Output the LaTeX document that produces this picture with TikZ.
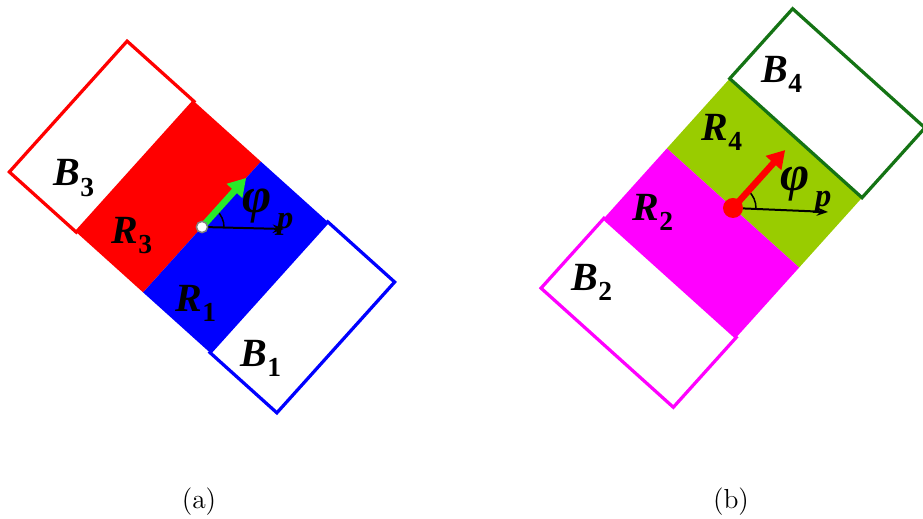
\documentclass[tikz,border=0pt]{standalone}
\usepackage{fontspec}
\newfontfamily\tnr{Liberation Serif}
\usetikzlibrary{arrows.meta}

\definecolor{bandred}{RGB}{255,0,0}
\definecolor{bandblue}{RGB}{0,0,255}
\definecolor{bandmag}{RGB}{255,0,255}
\definecolor{bandlime}{RGB}{153,204,0}
\definecolor{darkgrn}{RGB}{20,115,20}
\definecolor{brightgrn}{RGB}{40,235,40}

% bold italic letter with a lowered index
\newcommand{\lbl}[2]{#1\raisebox{-0.55ex}{\upshape\fontsize{11}{11}\selectfont #2}}
\newcommand{\phip}{{\fontsize{20}{20}\selectfont\char"03C6}\raisebox{-0.9ex}{\fontsize{13}{13}\selectfont\,p}}

\begin{document}
\begin{tikzpicture}[x=0.4pt, y=0.4pt,
    outline/.style={line width=1.3pt},
    lbl/.style={font=\tnr\bfseries\itshape\fontsize{16}{18}\selectfont, inner sep=0pt},
    vec/.style={-{Triangle[length=7pt, width=8pt]}, line width=2.6pt},
    axis/.style={-{Stealth[length=4.5pt]}, line width=0.8pt},
    angmark/.style={line width=0.6pt}
]
\useasboundingbox (0,0) rectangle (923,519);

% (a)
\begin{scope}[shift={(202,292)}, rotate=-42]
    \fill[bandred] (-90,-88) rectangle (0,88);
    \fill[bandblue] (0,-88) rectangle (90,88);
    \draw[outline, bandred] (-180,-88) rectangle (-90,88);
    \draw[outline, bandblue] (90,-88) rectangle (180,88);
    \coordinate (ca) at (0,0);
    \coordinate (ga) at (0,66);
\end{scope}
\coordinate (xa) at (284,290);
\draw[axis] (ca) -- (xa);
\draw[angmark] ([shift={(22,0)}]ca) arc[start angle=0, end angle=48, radius=22];
\draw[vec, brightgrn] (ca) -- (ga);
\node[circle, draw=gray, fill=white, line width=0.6pt, inner sep=0pt, minimum size=4.5pt] (pa) at (ca) {};

\node[lbl] (b3) at (74,341) {\lbl{B}{3}};
\node[lbl] (r3) at (132,283) {\lbl{R}{3}};
\node[lbl] (r1) at (196,216) {\lbl{R}{1}};
\node[lbl] (b1) at (261,161) {\lbl{B}{1}};
\node[lbl] (phia) at (268,307) {\phip};

% (b)
\begin{scope}[shift={(733,311)}, rotate=48]
    \fill[bandlime] (0,-89) rectangle (94,89);
    \fill[bandmag] (-94,-89) rectangle (0,89);
    \draw[outline, darkgrn] (94,-89) rectangle (188,89);
    \draw[outline, bandmag] (-188,-89) rectangle (-94,89);
    \coordinate (cb) at (0,0);
    \coordinate (gb) at (78,0);
\end{scope}
\coordinate (xb) at (828,307);
\draw[axis] (cb) -- (xb);
\draw[angmark] ([shift={(23,0)}]cb) arc[start angle=0, end angle=48, radius=23];
\draw[vec, bandred] (cb) -- (gb);
\node[circle, fill=bandred, inner sep=0pt, minimum size=8pt] (pb) at (cb) {};

\node[lbl] (b4) at (782,445) {\lbl{B}{4}};
\node[lbl] (r4) at (722,387) {\lbl{R}{4}};
\node[lbl] (r2) at (653,307) {\lbl{R}{2}};
\node[lbl] (b2) at (592,237) {\lbl{B}{2}};
\node[lbl] (phib) at (806,329) {\phip};

% captions
\node[font=\fontsize{11}{13}\selectfont] (capa) at (199,17) {(a)};
\node[font=\fontsize{11}{13}\selectfont] (capb) at (731,17) {(b)};
\end{tikzpicture}
\end{document}
